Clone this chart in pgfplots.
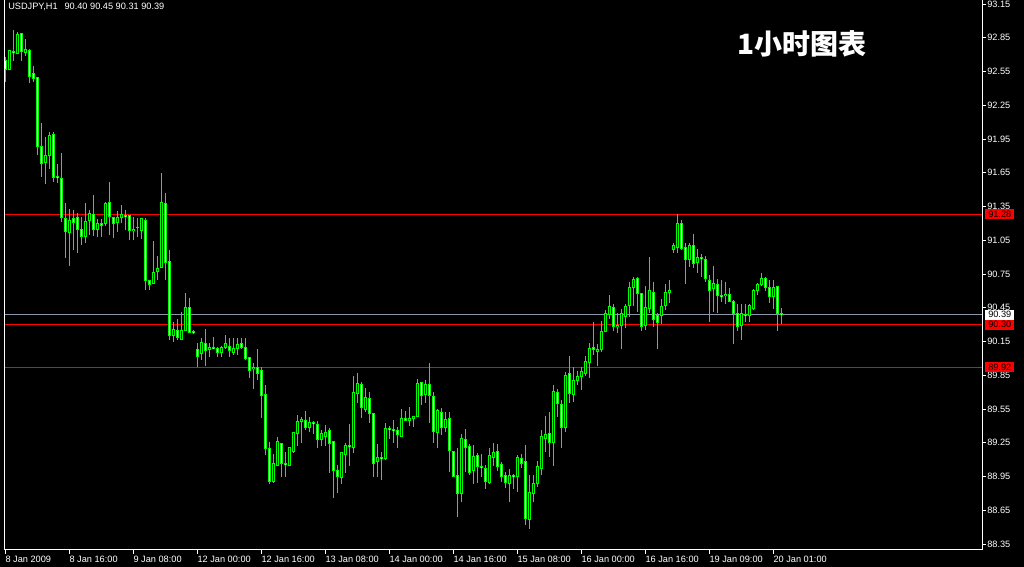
\documentclass[border=0pt]{standalone}
\usepackage{pgfplots}
\pgfplotsset{compat=1.18}
\usepackage{pgfplotstable}
\usepackage{fontspec}
\setmainfont{Liberation Sans}
\newfontfamily\cjk{Noto Sans CJK SC}
\definecolor{candle}{RGB}{0,255,0}
\definecolor{bidgray}{RGB}{140,150,170}

% 1 price unit = 84.375pt on this axis (412.5pt over 4.889)
\pgfdeclareplotmark{wick}{%
  \pgfpathrectangle{\pgfpoint{-0.5pt}{0pt}}{\pgfpoint{1pt}{\rng pt}}%
  \pgfsetfillcolor{candle}%
  \pgfusepathqfill}
\pgfdeclareplotmark{cbody}{%
  \pgfsetfillcolor{candle}%
  \pgfpathrectangle{\pgfpoint{-1.125pt}{\bb pt}}{\pgfpoint{2.25pt}{\bh pt}}%
  \pgfusepathqfill}
\pgfdeclareplotmark{cinner}{%
  \ifdim\ih pt>0pt
  \pgfpathrectangle{\pgfpoint{-0.375pt}{0.375pt}}{\pgfpoint{0.75pt}{\ih pt}}%
  \pgfusepathqfill
  \fi}

\pgfplotstableread{
i o h l c
0 92.65 92.68 92.46 92.57
1 92.57 92.74 92.56 92.74
2 92.73 92.92 92.64 92.72
3 92.71 92.90 92.71 92.88
4 92.89 92.89 92.64 92.73
5 92.72 92.84 92.69 92.75
6 92.74 92.75 92.45 92.51
7 92.53 92.60 92.46 92.49
8 92.50 92.50 91.81 91.88
9 91.88 92.09 91.61 91.73
10 91.74 91.97 91.55 91.80
11 91.80 92.01 91.68 91.98
12 91.99 92.01 91.57 91.61
13 91.62 91.73 91.56 91.61
14 91.60 91.83 91.21 91.25
15 91.24 91.38 90.89 91.13
16 91.12 91.33 90.82 91.23
17 91.24 91.32 90.96 91.21
18 91.25 91.29 90.94 91.15
19 91.15 91.26 91.01 91.08
20 91.08 91.38 91.03 91.22
21 91.23 91.32 91.10 91.29
22 91.28 91.45 91.09 91.15
23 91.15 91.24 91.08 91.20
24 91.20 91.24 91.08 91.18
25 91.20 91.39 91.18 91.38
26 91.39 91.57 91.10 91.26
27 91.25 91.26 91.07 91.20
28 91.21 91.31 91.12 91.25
29 91.25 91.36 91.20 91.28
30 91.27 91.32 91.14 91.26
31 91.27 91.27 91.05 91.14
32 91.14 91.26 91.05 91.15
33 91.16 91.25 91.08 91.16
34 91.14 91.25 91.06 91.24
35 91.23 91.25 90.61 90.69
36 90.69 90.69 90.61 90.66
37 90.67 91.04 90.67 90.76
38 90.77 90.91 90.70 90.80
39 90.81 91.65 90.81 91.39
40 91.38 91.47 90.70 90.85
41 90.86 90.96 90.16 90.20
42 90.20 90.32 90.15 90.26
43 90.25 90.35 90.16 90.19
44 90.17 90.41 90.16 90.25
45 90.25 90.58 90.24 90.45
46 90.45 90.54 90.23 90.23
47 90.24 90.25 90.22 90.23
48 90.08 90.14 89.92 90.02
49 90.04 90.18 89.99 90.14
50 90.13 90.26 89.93 90.07
51 90.08 90.14 90.01 90.10
52 90.10 90.19 90.08 90.09
53 90.09 90.10 90.01 90.05
54 90.05 90.11 90.01 90.10
55 90.10 90.21 90.08 90.13
56 90.11 90.18 90.01 90.07
57 90.05 90.18 90.03 90.09
58 90.09 90.18 90.03 90.12
59 90.13 90.18 90.08 90.10
60 90.10 90.18 89.99 90.00
61 90.01 90.01 89.83 89.89
62 89.91 89.96 89.73 89.92
63 89.92 90.08 89.81 89.87
64 89.89 89.92 89.47 89.67
65 89.68 89.76 89.14 89.20
66 89.20 89.26 88.88 88.91
67 88.91 89.15 88.89 89.07
68 89.05 89.30 89.04 89.26
69 89.24 89.25 88.95 89.07
70 89.07 89.17 88.95 89.06
71 89.05 89.21 89.04 89.21
72 89.17 89.34 89.16 89.34
73 89.33 89.50 89.22 89.44
74 89.44 89.48 89.25 89.46
75 89.45 89.53 89.36 89.39
76 89.39 89.48 89.35 89.43
77 89.43 89.44 89.33 89.42
78 89.41 89.44 89.20 89.28
79 89.28 89.36 89.22 89.33
80 89.31 89.41 89.22 89.34
81 89.36 89.38 88.98 89.24
82 89.26 89.26 88.76 89.00
83 89.00 89.05 88.80 88.95
84 88.94 89.17 88.88 89.16
85 89.15 89.25 88.98 89.23
86 89.23 89.42 89.04 89.22
87 89.21 89.84 89.16 89.70
88 89.69 89.87 89.60 89.78
89 89.77 89.79 89.47 89.56
90 89.55 89.74 89.52 89.65
91 89.64 89.70 89.43 89.51
92 89.51 89.51 88.95 89.07
93 89.08 89.24 88.95 89.12
94 89.12 89.17 88.92 89.11
95 89.11 89.43 89.10 89.38
96 89.38 89.40 89.28 89.37
97 89.37 89.45 89.25 89.36
98 89.36 89.39 89.20 89.32
99 89.31 89.55 89.30 89.47
100 89.47 89.53 89.44 89.45
101 89.45 89.57 89.40 89.47
102 89.47 89.49 89.39 89.48
103 89.48 89.82 89.48 89.78
104 89.79 89.79 89.59 89.67
105 89.68 89.81 89.60 89.77
106 89.77 89.96 89.43 89.67
107 89.66 89.70 89.25 89.35
108 89.34 89.55 89.20 89.54
109 89.52 89.56 89.32 89.39
110 89.39 89.52 89.35 89.46
111 89.47 89.52 88.99 89.18
112 89.17 89.18 88.95 88.95
113 88.96 89.20 88.59 88.80
114 88.80 89.33 88.72 89.29
115 89.28 89.37 88.99 89.21
116 89.22 89.24 88.96 88.99
117 89.00 89.23 88.88 89.13
118 89.14 89.16 88.89 89.04
119 89.04 89.15 88.95 89.03
120 89.02 89.05 88.84 88.91
121 88.90 89.20 88.88 89.14
122 89.12 89.25 89.04 89.16
123 89.17 89.24 89.00 89.04
124 89.06 89.08 88.90 88.95
125 88.96 88.99 88.85 88.90
126 88.89 89.02 88.72 88.96
127 88.96 88.97 88.84 88.95
128 88.95 89.14 88.81 89.12
129 89.11 89.15 89.03 89.07
130 89.08 89.23 88.52 88.58
131 88.57 88.96 88.48 88.81
132 88.80 88.96 88.72 88.89
133 88.89 89.09 88.86 89.04
134 89.02 89.36 88.96 89.31
135 89.29 89.49 89.17 89.32
136 89.33 89.52 89.12 89.25
137 89.25 89.76 89.04 89.71
138 89.70 89.73 89.48 89.60
139 89.59 89.63 89.20 89.39
140 89.39 89.88 89.35 89.85
141 89.87 90.02 89.60 89.69
142 89.68 89.92 89.61 89.80
143 89.80 89.89 89.76 89.84
144 89.84 89.92 89.72 89.88
145 89.87 90.02 89.84 89.97
146 89.96 90.14 89.83 90.09
147 90.10 90.32 90.03 90.08
148 90.06 90.13 89.93 90.08
149 90.08 90.33 90.06 90.24
150 90.24 90.43 90.24 90.40
151 90.39 90.56 90.35 90.46
152 90.45 90.48 90.24 90.28
153 90.28 90.40 90.23 90.29
154 90.29 90.44 90.08 90.40
155 90.37 90.48 90.27 90.46
156 90.47 90.68 90.37 90.63
157 90.63 90.72 90.47 90.70
158 90.71 90.72 90.41 90.58
159 90.58 90.58 90.24 90.28
160 90.29 90.64 90.25 90.45
161 90.44 90.90 90.40 90.60
162 90.59 90.68 90.28 90.35
163 90.38 90.40 90.08 90.32
164 90.38 90.53 90.31 90.46
165 90.47 90.66 90.43 90.59
166 90.59 90.70 90.49 90.60
167 90.97 91.03 90.94 91.00
168 90.99 91.28 90.94 91.20
169 91.20 91.23 90.96 90.98
170 90.99 91.03 90.66 90.88
171 90.88 91.03 90.81 91.00
172 91.00 91.11 90.80 90.84
173 90.85 90.97 90.76 90.90
174 90.90 90.93 90.72 90.89
175 90.88 90.91 90.68 90.71
176 90.69 90.74 90.32 90.60
177 90.62 90.82 90.41 90.67
178 90.66 90.71 90.40 90.56
179 90.56 90.70 90.50 90.55
180 90.56 90.68 90.48 90.57
181 90.57 90.63 90.50 90.51
182 90.51 90.52 90.13 90.40
183 90.40 90.48 90.24 90.28
184 90.29 90.48 90.16 90.40
185 90.39 90.48 90.32 90.38
186 90.38 90.48 90.32 90.47
187 90.44 90.62 90.43 90.60
188 90.60 90.67 90.56 90.66
189 90.66 90.76 90.64 90.71
190 90.71 90.72 90.60 90.63
191 90.63 90.70 90.49 90.55
192 90.55 90.70 90.44 90.63
193 90.64 90.64 90.24 90.40
194 90.40 90.45 90.31 90.39
}\ohlc

\begin{document}
\begin{tikzpicture}
\useasboundingbox (0,0) rectangle (768pt,425.25pt);
\fill[black] (0,0) rectangle (768pt,425.25pt);
\begin{axis}[
  at={(3pt,12.75pt)}, anchor=south west,
  scale only axis, width=733.5pt, height=412.5pt,
  xmin=-0.325, xmax=244.175, ymin=88.297, ymax=93.186,
  axis line style={draw=none},
  tick align=outside, major tick length=3pt,
  xtick pos=lower, ytick pos=right,
  tick style={white, line width=0.75pt},
  xtick={0,16,32,48,64,80,96,112,128,144,160,176,192},
  xticklabels={8 Jan 2009, 8 Jan 16:00, 9 Jan 08:00, 12 Jan 00:00, 12 Jan 16:00, 13 Jan 08:00, 14 Jan 00:00, 14 Jan 16:00, 15 Jan 08:00, 16 Jan 00:00, 16 Jan 16:00, 19 Jan 09:00, 20 Jan 01:00},
  ytick={88.35,88.65,88.95,89.25,89.55,89.85,90.15,90.45,90.75,91.05,91.35,91.65,91.95,92.25,92.55,92.85,93.15},
  yticklabels={88.35,88.65,88.95,89.25,89.55,89.85,90.15,90.45,90.75,91.05,91.35,91.65,91.95,92.25,92.55,92.85,93.15},
  ticklabel style={font=\fontsize{6.9}{8}\selectfont, text=white, inner sep=0pt},
  yticklabel style={anchor=west, xshift=0.75pt},
  xticklabel style={anchor=north west, yshift=-1.5pt},
]
% horizontal levels
\addplot[red, line width=0.75pt, forget plot] coordinates {(-0.325,91.28) (244.175,91.28)};
\addplot[red, line width=0.75pt, forget plot] coordinates {(-0.325,90.30) (244.175,90.30)};
\addplot[red, line width=0.75pt, forget plot] coordinates {(-0.325,89.92) (244.175,89.92)};
\addplot[bidgray, line width=0.75pt, forget plot] coordinates {(-0.325,90.39) (244.175,90.39)};
% wicks (filled thin rectangles)
\addplot[candle, only marks, mark=wick, forget plot,
  mark options={fill=candle, draw=none},
  visualization depends on={(\thisrow{h}-\thisrow{l})*84.375 \as \rng}]
  table[x=i, y=l] {\ohlc};
% body (lime)
\addplot[candle, only marks, mark=cbody, forget plot,
  mark options={fill=candle},
  visualization depends on={min(0,(\thisrow{c}-\thisrow{o})*84.375)-0.375 \as \bb},
  visualization depends on={abs(\thisrow{c}-\thisrow{o})*84.375+0.75 \as \bh}]
  table[x=i, y=o] {\ohlc};
% bear inner (white)
\addplot[white, only marks, mark=cinner, forget plot,
  mark options={fill=white},
  visualization depends on={(\thisrow{o}-\thisrow{c})*84.375-0.75 \as \ih}]
  table[x=i, y=c] {\ohlc};
% bull inner (black)
\addplot[black, only marks, mark=cinner, forget plot,
  mark options={fill=black},
  visualization depends on={(\thisrow{c}-\thisrow{o})*84.375-0.75 \as \ih}]
  table[x=i, y=o] {\ohlc};
\coordinate (L1) at (axis cs:244.175,91.28);
\coordinate (L2) at (axis cs:244.175,90.39);
\coordinate (L3) at (axis cs:244.175,90.30);
\coordinate (L4) at (axis cs:244.175,89.92);
\end{axis}
\draw[white, line width=0.75pt] (current axis.north west) -- (current axis.south west) -- (current axis.south east) -- (current axis.north east);
\tikzset{lvl/.style={anchor=west, inner sep=0pt, minimum width=21.75pt, minimum height=7.5pt, font=\fontsize{6.9}{8}\selectfont}}
\node[lvl, fill=red, text=black] at ([xshift=2.25pt]L1) {91.28};
\node[lvl, fill=white, text=black] at ([xshift=2.25pt]L2) {90.39};
\node[lvl, fill=red, text=black] at ([xshift=2.25pt]L3) {90.30};
\node[lvl, fill=red, text=black] at ([xshift=2.25pt]L4) {89.92};
\node[anchor=base west, inner sep=0pt, text=white, font=\fontsize{6.9}{8}\selectfont] at (6pt,418.25pt) {USDJPY,H1\hspace{0.75em}90.40 90.45 90.31 90.39};
\node[anchor=west, inner sep=0pt, text=white, font=\cjk\bfseries\fontsize{21}{24}\selectfont] at (552.75pt,392.6pt) {1小时图表};
\end{tikzpicture}
\end{document}
